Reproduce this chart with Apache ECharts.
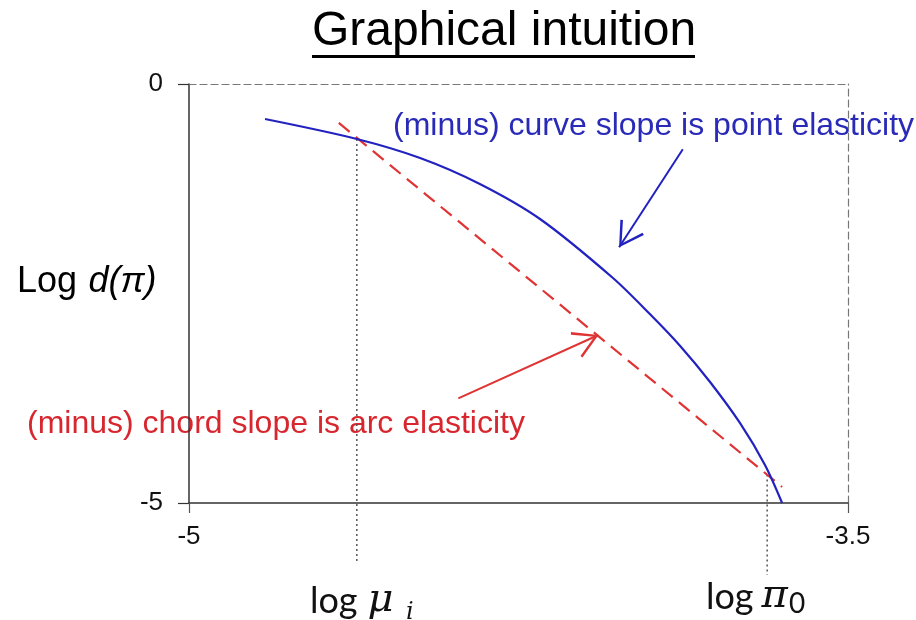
<!DOCTYPE html>
<html>
<head>
<meta charset="utf-8">
<script src="https://cdn.jsdelivr.net/npm/echarts@6/dist/echarts.min.js"></script>
<style>
  html, body { margin: 0; padding: 0; background: #fff; }
  #chart { width: 916px; height: 620px; }
</style>
</head>
<body>
<div id="chart"></div>
<script>
// axis ranges and tick labels
const xRange = [-5, -3.5];
const yRange = [-5, 0];

// demand curve: log d(pi) against log price
const curvePoints = [
  [-4.827, -0.418], [-4.618, -0.656], [-4.474, -0.883], [-4.338, -1.193],
  [-4.201, -1.611], [-4.035, -2.315], [-3.951, -2.745], [-3.882, -3.126],
  [-3.814, -3.556], [-3.746, -4.045], [-3.689, -4.547], [-3.650, -5.0]
];
// chord between the two points
const chordPoints = [[-4.659, -0.465], [-3.650, -4.809]];
// dotted guides down to the axis labels
const muGuide = [[-4.618, -0.656], [-4.618, -5.70]];
const piGuide = [[-3.684, -4.66], [-3.684, -5.86]];
// annotation arrows (from, to)
const blueArrow = [[-3.876, -0.779], [-4.021, -1.949]];
const redArrow = [[-4.387, -3.751], [-4.068, -2.995]];

const BLUE = '#2222c0';
const RED = '#e03434';
// open arrow head; the tiny first piece pads the box so the tip sits at its centre
const chevron = 'path://M12,-22 L12.2,-22 L12,-21.8 Z M0,21 L12,0 L24,21 L22,22 L12,4 L2,22 Z';

const chart = echarts.init(document.getElementById('chart'));

const arrowLine = (pts, color) => [
  { coord: pts[0], lineStyle: { color: color, width: 2, type: 'solid' } },
  { coord: pts[1] }
];

const option = {
  animation: false,
  grid: { left: 189, right: 68, top: 84, bottom: 117 },
  xAxis: [
    {
      type: 'value', min: xRange[0], max: xRange[1], interval: 1.5, position: 'bottom',
      axisLine: { onZero: false, lineStyle: { color: '#333', width: 1.5 } },
      axisTick: { show: true, length: 10, lineStyle: { color: '#555', width: 1.2 } },
      axisLabel: { fontSize: 26, color: '#111', margin: 21, fontFamily: 'Liberation Sans' },
      splitLine: { show: false }
    },
    {
      type: 'value', min: xRange[0], max: xRange[1], position: 'top',
      axisLine: { onZero: false, lineStyle: { color: '#777', width: 1.2, type: [7, 4] } },
      axisTick: { show: false }, axisLabel: { show: false }, splitLine: { show: false }
    }
  ],
  yAxis: [
    {
      type: 'value', min: yRange[0], max: yRange[1], interval: 5, position: 'left',
      axisLine: { show: true, onZero: false, lineStyle: { color: '#333', width: 1.5 } },
      axisTick: { show: true, length: 11, lineStyle: { color: '#333', width: 1.2 } },
      axisLabel: { fontSize: 26, color: '#111', margin: 26, fontFamily: 'Liberation Sans' },
      splitLine: { show: false }
    },
    {
      type: 'value', min: yRange[0], max: yRange[1], position: 'right',
      axisLine: { show: true, onZero: false, lineStyle: { color: '#777', width: 1.2, type: [7, 4] } },
      axisTick: { show: false }, axisLabel: { show: false }, splitLine: { show: false }
    }
  ],
  series: [
    {
      name: 'guide mu', type: 'line', data: muGuide, clip: false, showSymbol: false,
      lineStyle: { color: '#555', width: 1.5, type: [2, 3] }, silent: true
    },
    {
      name: 'guide pi', type: 'line', data: piGuide, clip: false, showSymbol: false,
      lineStyle: { color: '#555', width: 1.5, type: [2, 3] }, silent: true
    },
    {
      name: 'chord', type: 'line', data: chordPoints, showSymbol: false,
      lineStyle: { color: RED, width: 2.2, type: [14, 8] }, silent: true
    },
    {
      name: 'curve', type: 'line', data: curvePoints, smooth: 0.3, showSymbol: false,
      lineStyle: { color: BLUE, width: 2.2 }, silent: true
    },
    {
      name: 'arrows', type: 'line', data: [],
      markLine: {
        silent: true, animation: false,
        symbol: ['none', chevron], symbolSize: [28, 50],
        label: { show: false },
        data: [arrowLine(blueArrow, BLUE), arrowLine(redArrow, RED)]
      }
    }
  ],
  graphic: [
    {
      type: 'text', x: 312, y: 8,
      style: { text: 'Graphical intuition', font: '48px "Liberation Sans"', fill: '#000' }
    },
    {
      type: 'rect', shape: { x: 312, y: 55, width: 383, height: 3 },
      style: { fill: '#000' }
    },
    {
      type: 'text', x: 17, y: 282,
      style: {
        text: '{a|Log} {b|d(π)}', verticalAlign: 'middle',
        rich: {
          a: { font: '36px "Liberation Sans"', fill: '#000' },
          b: { font: 'italic 36px "Liberation Sans"', fill: '#000', padding: [0, 0, 0, 8] }
        }
      }
    },
    {
      type: 'text', x: 393, y: 126,
      style: { text: '(minus) curve slope is point elasticity', font: '32px "Liberation Sans"', fill: '#2a2ab8', verticalAlign: 'middle' }
    },
    {
      type: 'text', x: 27, y: 424,
      style: { text: '(minus) chord slope is arc elasticity', font: '32px "Liberation Sans"', fill: '#d8262e', verticalAlign: 'middle' }
    },
    {
      type: 'text', x: 310, y: 601,
      style: {
        text: '{a|log}{b|μ}', verticalAlign: 'middle',
        rich: {
          a: { font: '36px Lato', fill: '#111' },
          b: { font: 'italic 40px "DejaVu Serif"', fill: '#111', padding: [0, 0, 0, 10] }
        }
      }
    },
    {
      type: 'text', x: 406, y: 613,
      style: { text: 'i', font: 'italic 24px "DejaVu Serif"', fill: '#111', verticalAlign: 'middle' }
    },
    {
      type: 'text', x: 706, y: 597,
      style: {
        text: '{a|log}{b|π}', verticalAlign: 'middle',
        rich: {
          a: { font: '36px Lato', fill: '#111' },
          b: { font: 'italic 40px "DejaVu Serif"', fill: '#111', padding: [0, 0, 0, 8] }
        }
      }
    },
    {
      type: 'text', x: 789, y: 604,
      style: { text: '0', font: '28px Lato', fill: '#111', verticalAlign: 'middle' }
    }
  ]
};

chart.setOption(option);
</script>
</body>
</html>
